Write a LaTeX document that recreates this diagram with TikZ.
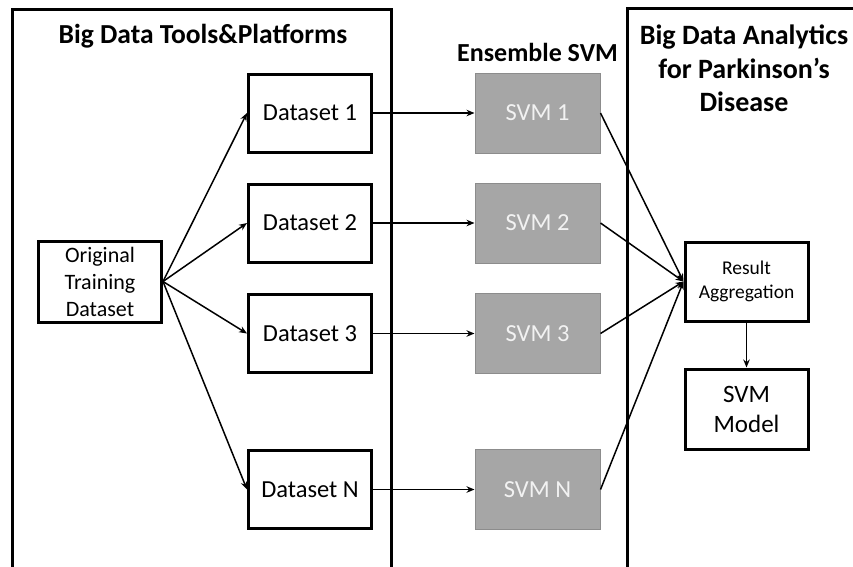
\documentclass[tikz,border=0pt]{standalone}
\usepackage{fontspec}
\setmainfont{Carlito}
\usetikzlibrary{arrows.meta}
\definecolor{svmfill}{HTML}{A6A6A6}
\definecolor{svmedge}{HTML}{8C8C8C}
\definecolor{svmtext}{HTML}{F2F2F2}
\tikzset{
  panel/.style={line width=3pt, line cap=rect},
  databox/.style={draw, line width=3pt, minimum width=123pt, minimum height=78pt,
    inner sep=0pt, align=center, font=\fontsize{24.5}{29}\selectfont},
  svmbox/.style={draw=svmedge, fill=svmfill, line width=1pt, minimum width=125pt,
    minimum height=80pt, inner sep=0pt, text=svmtext, font=\fontsize{24.5}{29}\selectfont},
  heading/.style={anchor=base, inner sep=0pt, font=\bfseries\fontsize{27.5}{33.5}\selectfont},
  link/.style={line width=1.5pt, -{Stealth[length=8pt,width=6.5pt]}}
}
\begin{document}
\begin{tikzpicture}[x=1pt, y=-1pt]
\useasboundingbox (0,0) rectangle (853,566);

% panels, open at the bottom
\draw[panel] (12,570) -- (12,9) -- (391,9) -- (391,570);
\draw[panel] (627,570) -- (627,8) -- (860,8);

% headings
\node[heading] (htools) at (203,43) {Big Data Tools\&Platforms};
\node[heading, font=\bfseries\fontsize{26}{31}\selectfont] (hens) at (537.5,61) {Ensemble SVM};
\node[heading, align=center, anchor=north, font=\bfseries\fontsize{28}{33.5}\selectfont] (hpd) at (744,25) {Big Data Analytics\\for Parkinson’s\\Disease};

% training data and its subsets
\node[databox, minimum height=81pt, font=\fontsize{22}{27}\selectfont] (orig) at (100,281.5) {Original\\Training\\Dataset};
\node[databox] (d1) at (310,113) {Dataset 1};
\node[databox] (d2) at (310,223) {Dataset 2};
\node[databox] (d3) at (310,333.5) {Dataset 3};
\node[databox] (dn) at (310,489.5) {Dataset N};

% ensemble members
\node[svmbox] (s1) at (537.5,113) {SVM 1};
\node[svmbox] (s2) at (537.5,223) {SVM 2};
\node[svmbox] (s3) at (537.5,333.5) {SVM 3};
\node[svmbox] (sn) at (537.5,489.5) {SVM N};

% aggregation and final model
\node[databox, minimum height=79pt, font=\fontsize{19.5}{24}\selectfont] (agg) at (746.5,281.5) {Result\\Aggregation};
\node[databox, minimum height=80pt, font=\fontsize{25}{30}\selectfont] (model) at (746.5,409) {SVM\\Model};

% connectors
\foreach \d in {d1,d2,d3,dn}
  \draw[link] (orig.east) -- (\d.west);
\draw[link] (d1) -- (s1);
\draw[link] (d2) -- (s2);
\draw[link] (d3) -- (s3);
\draw[link] (dn) -- (sn);
\foreach \s in {s1,s2,s3,sn}
  \draw[link] (\s.east) -- (agg.west);
\draw[link] (agg) -- (model);
\end{tikzpicture}
\end{document}
